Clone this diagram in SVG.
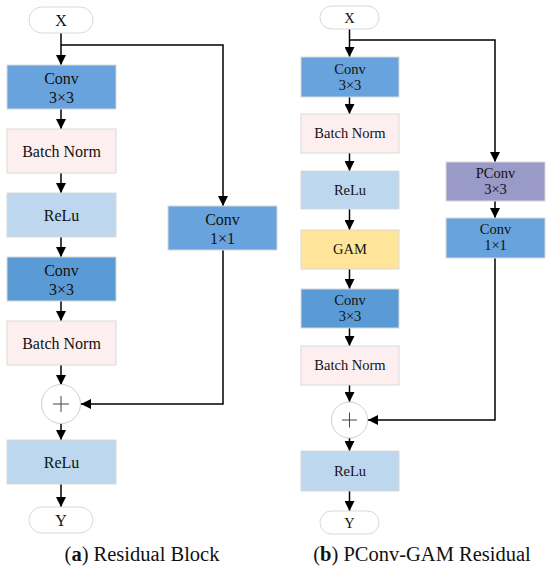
<svg xmlns="http://www.w3.org/2000/svg" width="550" height="572" viewBox="0 0 550 572">
<defs>
<marker id="ah" viewBox="0 0 10 10" refX="10" refY="5" markerWidth="10" markerHeight="10" markerUnits="userSpaceOnUse" orient="auto">
<path d="M0,0 L10,5 L0,10 z" fill="#000"/>
</marker>
<style>
text{font-family:"Liberation Serif","Times New Roman",serif;fill:#111;text-anchor:middle}
.t{font-size:16px}
.s{font-size:14.5px}
.cap{font-size:20.5px}
.pill{fill:#fff;stroke:#d9d9d9;stroke-width:1}
.c1{fill:#68a3dd;stroke:#d9d9d9}
.c2{fill:#5b9bd5;stroke:#d9d9d9}
.bn{fill:#fdeff0;stroke:#d9d9d9}
.re{fill:#bdd7ee;stroke:#d9d9d9}
.gam{fill:#ffe599;stroke:#d9d9d9}
.pc{fill:#9a9ac8;stroke:#d9d9d9}
.add{fill:#fff;stroke:#cfcfcf}
.e{fill:none;stroke:#000;stroke-width:1.5}
.a{marker-end:url(#ah)}
</style>
</defs>
<rect width="550" height="572" fill="#fff"/>
<g id="connectors">
<path class="e a" d="M61,33 V65"/>
<path class="e a" d="M61,45 H223 V206"/>
<path class="e a" d="M61,109 V129"/>
<path class="e a" d="M61,173 V193"/>
<path class="e a" d="M61,237 V257"/>
<path class="e a" d="M61,301 V321"/>
<path class="e a" d="M61,365 V385"/>
<path class="e a" d="M223,250 V404 H81"/>
<path class="e a" d="M61,424 V440"/>
<path class="e a" d="M61,484 V507"/>
<path class="e a" d="M349.5,29 V57"/>
<path class="e a" d="M349.5,40 H495 V162"/>
<path class="e a" d="M349.5,97 V114"/>
<path class="e a" d="M349.5,153 V171"/>
<path class="e a" d="M349.5,209 V230"/>
<path class="e a" d="M349.5,269 V289"/>
<path class="e a" d="M349.5,328 V346"/>
<path class="e a" d="M349.5,385 V402"/>
<path class="e a" d="M495,201 V218"/>
<path class="e a" d="M495,258 V420 H368"/>
<path class="e a" d="M349.5,438 V451"/>
<path class="e a" d="M349.5,491 V511"/>
</g>
<g id="a-x"><rect class="pill" x="29" y="7" width="64" height="26" rx="13"/><text class="t" x="61" y="26">X</text></g>
<g id="a-conv1"><rect class="c1" x="7" y="65" width="109" height="44"/><text class="t" x="61.5" y="84">Conv</text><text class="t" x="61.5" y="103">3×3</text></g>
<g id="a-bn1"><rect class="bn" x="7" y="129" width="109" height="44"/><text class="t" x="61.5" y="157">Batch Norm</text></g>
<g id="a-relu1"><rect class="re" x="7" y="193" width="109" height="44"/><text class="t" x="61.5" y="221">ReLu</text></g>
<g id="a-conv2"><rect class="c2" x="7" y="257" width="109" height="44"/><text class="t" x="61.5" y="276">Conv</text><text class="t" x="61.5" y="295">3×3</text></g>
<g id="a-bn2"><rect class="bn" x="7" y="321" width="109" height="44"/><text class="t" x="61.5" y="349">Batch Norm</text></g>
<g id="a-add"><circle class="add" cx="61" cy="404" r="19.5"/><path d="M53,404 H69 M61,396 V412" stroke="#444" stroke-width="1"/></g>
<g id="a-relu2"><rect class="re" x="7" y="440" width="109" height="44"/><text class="t" x="61.5" y="468">ReLu</text></g>
<g id="a-y"><rect class="pill" x="29" y="507" width="64" height="26" rx="13"/><text class="t" x="61" y="526">Y</text></g>
<g id="a-conv1x1"><rect class="c1" x="168" y="206" width="109" height="44"/><text class="t" x="222.5" y="225">Conv</text><text class="t" x="222.5" y="244">1×1</text></g>
<g id="cap-a"><text class="cap" x="142" y="561">(<tspan font-weight="bold">a</tspan>) Residual Block</text></g>

<g id="b-x"><rect class="pill" x="320" y="6" width="59" height="23" rx="11.5"/><text class="s" x="349.5" y="23">X</text></g>
<g id="b-conv1"><rect class="c1" x="301" y="57" width="98" height="40"/><text class="s" x="350" y="74">Conv</text><text class="s" x="350" y="90">3×3</text></g>
<g id="b-bn1"><rect class="bn" x="301" y="114" width="98" height="39"/><text class="s" x="350" y="138">Batch Norm</text></g>
<g id="b-relu1"><rect class="re" x="301" y="171" width="98" height="38"/><text class="s" x="350" y="195">ReLu</text></g>
<g id="b-gam"><rect class="gam" x="301" y="230" width="98" height="39"/><text class="s" x="350" y="254">GAM</text></g>
<g id="b-conv2"><rect class="c2" x="301" y="289" width="98" height="39"/><text class="s" x="350" y="305">Conv</text><text class="s" x="350" y="321">3×3</text></g>
<g id="b-bn2"><rect class="bn" x="301" y="346" width="98" height="39"/><text class="s" x="350" y="370">Batch Norm</text></g>
<g id="b-add"><circle class="add" cx="349.5" cy="420" r="18"/><path d="M342,420 H357 M349.5,412.5 V427.5" stroke="#444" stroke-width="1"/></g>
<g id="b-relu2"><rect class="re" x="301" y="451" width="98" height="40"/><text class="s" x="350" y="476">ReLu</text></g>
<g id="b-y"><rect class="pill" x="320" y="511" width="59" height="23" rx="11.5"/><text class="s" x="349.5" y="528">Y</text></g>
<g id="b-pconv"><rect class="pc" x="446" y="162" width="99" height="39"/><text class="s" x="495.5" y="178">PConv</text><text class="s" x="495.5" y="194">3×3</text></g>
<g id="b-conv1x1"><rect class="c1" x="446" y="218" width="99" height="40"/><text class="s" x="495.5" y="234">Conv</text><text class="s" x="495.5" y="250">1×1</text></g>
<g id="cap-b"><text class="cap" x="422" y="561">(<tspan font-weight="bold">b</tspan>) PConv-GAM Residual</text></g>
</svg>
